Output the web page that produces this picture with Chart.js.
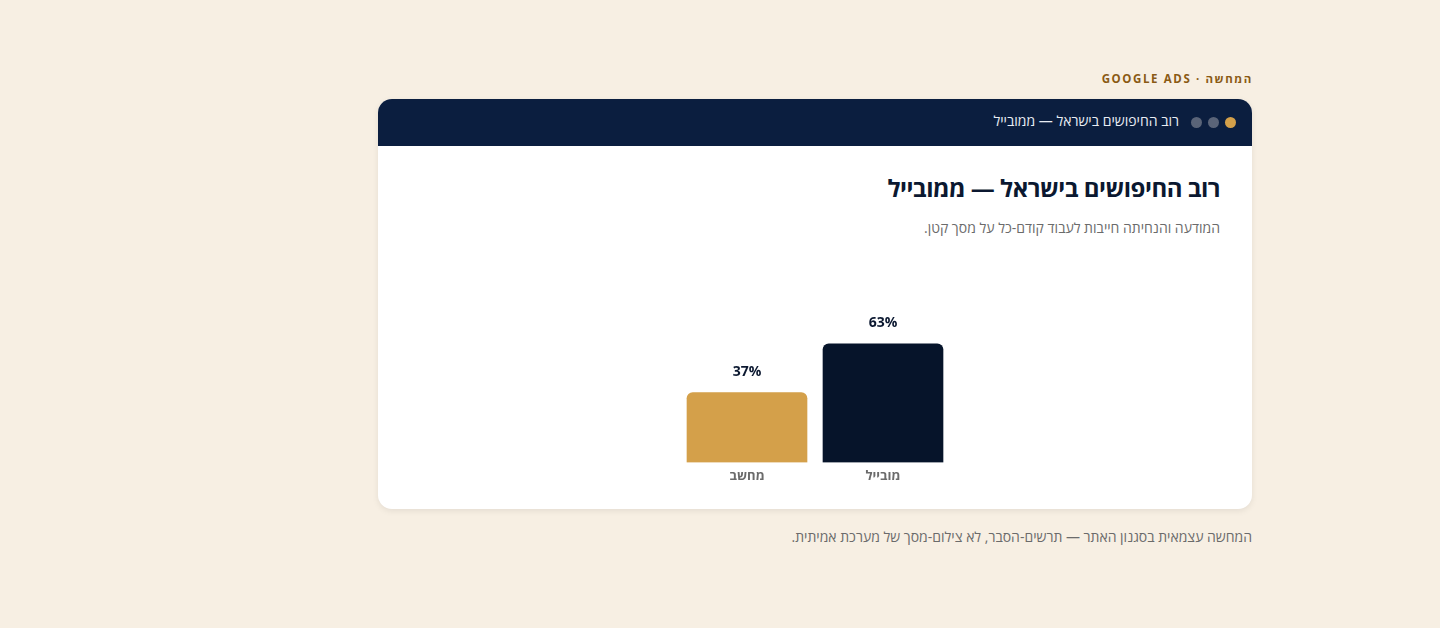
<!DOCTYPE html>
<html lang="he" dir="rtl">
<head>
<meta charset="utf-8">
<script src="https://cdn.jsdelivr.net/npm/chart.js@4.4.1/dist/chart.umd.min.js"></script>
<style>
  html,body{margin:0;padding:0;}
  body{width:1440px;height:628px;background:#f7efe3;font-family:"Open Sans","Noto Sans",sans-serif;position:relative;overflow:hidden;}
  .eyebrow{position:absolute;right:187px;top:71px;font-size:11.5px;font-weight:700;letter-spacing:1.6px;color:#8a5a14;white-space:nowrap;}
  .card{position:absolute;left:378px;top:99px;width:874px;height:410px;background:#fff;border-radius:14px;box-shadow:0 2px 6px rgba(0,0,0,0.08);overflow:hidden;}
  .bar{height:47px;background:#0b1e3f;position:relative;}
  .dots{position:absolute;right:16px;top:18px;display:flex;gap:6px;direction:ltr;}
  .dots span{width:11px;height:11px;border-radius:50%;background:#5a6478;display:block;}
  .dots span.g{background:#d4a04a;}
  .bar .ttl{position:absolute;right:73px;top:12px;font-size:14px;color:#e8ecf3;white-space:nowrap;}
  .title{position:absolute;right:32px;top:72px;font-size:24px;font-weight:700;letter-spacing:-0.5px;color:#0b1830;white-space:nowrap;}
  .sub{position:absolute;right:32px;top:119px;font-size:14px;color:#6b6b6b;white-space:nowrap;}
  .chartbox{position:absolute;left:301px;top:175px;width:272px;height:216px;}
  .note{position:absolute;right:188px;top:527px;font-size:14px;color:#6b6b6b;white-space:nowrap;}
</style>
</head>
<body>
<div class="eyebrow">המחשה · GOOGLE ADS</div>
<div class="card">
  <div class="bar">
    <div class="dots"><span></span><span></span><span class="g"></span></div>
    <div class="ttl">רוב החיפושים בישראל — ממובייל</div>
  </div>
  <div class="title">רוב החיפושים בישראל — ממובייל</div>
  <div class="sub">המודעה והנחיתה חייבות לעבוד קודם-כל על מסך קטן.</div>
  <div class="chartbox"><canvas id="c"></canvas></div>
</div>
<div class="note">המחשה עצמאית בסגנון האתר — תרשים-הסבר, לא צילום-מסך של מערכת אמיתית.</div>
<script>
const categories = ["מובייל", "מחשב"];
const shareValues = [63, 37];
const barColors = ["#06142a", "#d4a04a"];

const valueLabels = {
  id: "valueLabels",
  afterDatasetsDraw(chart) {
    const ctx = chart.ctx;
    const meta = chart.getDatasetMeta(0);
    ctx.save();
    ctx.font = "700 14px 'Open Sans', sans-serif";
    ctx.fillStyle = "#0b1830";
    ctx.textAlign = "center";
    ctx.textBaseline = "middle";
    meta.data.forEach((bar, i) => {
      ctx.fillText(shareValues[i] + "%", bar.x, bar.y - 21);
    });
    ctx.restore();
  }
};

new Chart(document.getElementById("c"), {
  type: "bar",
  data: {
    labels: categories,
    datasets: [{
      data: shareValues,
      backgroundColor: barColors,
      borderRadius: { topLeft: 6, topRight: 6, bottomLeft: 0, bottomRight: 0 },
      borderSkipped: "bottom",
      barThickness: 120
    }]
  },
  options: {
    responsive: true,
    maintainAspectRatio: false,
    animation: false,
    layout: { padding: 0 },
    plugins: { legend: { display: false }, tooltip: { enabled: false } },
    scales: {
      x: {
        reverse: true,
        grid: { display: false, drawTicks: false },
        border: { display: false },
        ticks: { color: "#6b6b6b", font: { family: "'Open Sans', sans-serif", size: 13, weight: "700" }, padding: 6 }
      },
      y: {
        display: false,
        min: 0,
        max: 100
      }
    }
  },
  plugins: [valueLabels]
});
</script>
</body>
</html>
